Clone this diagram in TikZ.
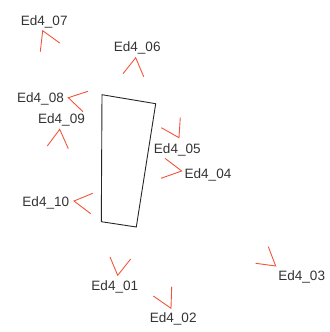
\documentclass[tikz,border=0pt]{standalone}
\usepackage{fontspec}
\setmainfont{Liberation Sans}
\usepackage{tikz}
\definecolor{angred}{RGB}{242,84,58}
\tikzset{
	lbl/.style={inner sep=0pt,yshift=-1.5bp,text=black!80,font=\fontsize{13.6}{15}\selectfont,name=#1},
	ang/.style={draw=angred,line width=0.9pt},
	edge/.style={draw=black!85,line width=0.9pt,line join=miter}
}
\begin{document}
\begin{tikzpicture}[x=1bp,y=-1bp]
	\useasboundingbox (0,0) rectangle (330,332);
	% outline
	\draw[edge] (102,94.7) -- (155.7,103.7) -- (136.3,227) -- (101.3,221.7) -- cycle;

	% labels
	\node [lbl=e01] at (114.8,285.7) {Ed4\_01};
	\node [lbl=e02] at (173.2,317.3) {Ed4\_02};
	\node [lbl=e03] at (301.7,275) {Ed4\_03};
	\node [lbl=e04] at (208,173.3) {Ed4\_04};
	\node [lbl=e05] at (177.3,148.3) {Ed4\_05};
	\node [lbl=e06] at (137.2,46.7) {Ed4\_06};
	\node [lbl=e07] at (44.2,20) {Ed4\_07};
	\node [lbl=e08] at (40.5,97.3) {Ed4\_08};
	\node [lbl=e09] at (61.5,118.3) {Ed4\_09};
	\node [lbl=e10] at (45.8,201) {Ed4\_10};

	% angle marks
	\draw[ang] (110,257) -- (117.7,275.3) -- (130.7,259);
	\draw[ang] (153.3,296) -- (171,308.3) -- (171.7,286.7);
	\draw[ang] (255.7,263.3) -- (275.7,266) -- (268.3,246.7);
	\draw[ang] (165,158.3) -- (181.7,171) -- (161,178.3);
	\draw[ang] (161.3,127.7) -- (179,137.7) -- (180.3,117.3);
	\draw[ang] (123,73.7) -- (135.7,57.7) -- (143.7,76.7);
	\draw[ang] (40.3,51.7) -- (42.7,30.7) -- (59.7,43);
	\draw[ang] (88,91.3) -- (68.3,97.7) -- (83,111.7);
	\draw[ang] (47.3,146) -- (59.7,129.3) -- (68.3,148.7);
	\draw[ang] (92.7,193.3) -- (74,201) -- (90.7,213.7);
\end{tikzpicture}
\end{document}
